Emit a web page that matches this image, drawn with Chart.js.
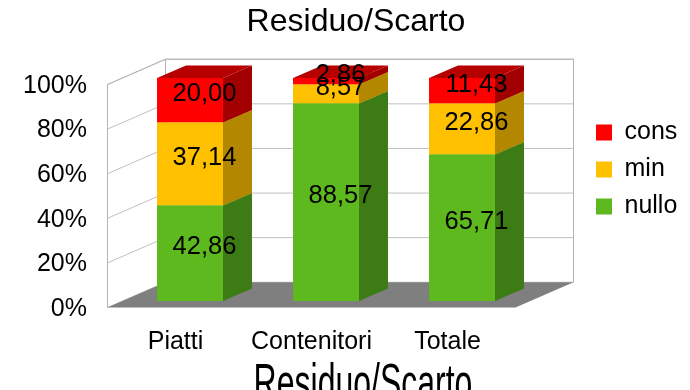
<!DOCTYPE html>
<html>
<head>
<meta charset="utf-8">
<style>
  html, body { margin: 0; padding: 0; background: #fff; overflow: hidden; }
  canvas { display: block; }
</style>
<script src="https://cdn.jsdelivr.net/npm/chart.js@4/dist/chart.umd.min.js"></script>
</head>
<body>
<canvas id="chart" width="690" height="390"></canvas>
<script>
// Share of waste per category (percent, stacked to 100)
const categories = ['Piatti', 'Contenitori', 'Totale'];
const nullo = [42.86, 88.57, 65.71];
const minimo = [37.14, 8.57, 22.86];
const cons = [20.00, 2.86, 11.43];
const yTicks = [0, 20, 40, 60, 80, 100];
const chartTitle = 'Residuo/Scarto';
const axisTitle = 'Residuo/Scarto';

const FONT = "'Liberation Sans', Arial, sans-serif";
Chart.defaults.font.family = FONT;

// Face colours for the 3D boxes: front, side, top
const shades = {
  nullo: { front: '#5eb91e', side: '#3d7b14', top: '#4b9a18' },
  min:   { front: '#ffc000', side: '#b38700', top: '#c99a00' },
  cons:  { front: '#ff0000', side: '#a20000', top: '#b60000' }
};

// Depth offsets, measured from the plane the bar fronts sit in
const FRONT = { x: -14.5, y: 6.5 };   // front edge of the floor / left wall
const BACK  = { x: 43.5, y: -18.75 }; // back wall
const BAR   = { x: 29, y: -12.5 };    // depth of each bar

const fmt = v => v.toFixed(2).replace('.', ',');

const box3d = {
  id: 'box3d',
  afterLayout(chart) {
    const a = chart.chartArea;
    const lg = chart.legend;
    if (lg) {
      const w = lg.width, h = lg.height;
      lg.left = a.right + 54; lg.right = lg.left + w;
      lg.top = a.top + 30; lg.bottom = lg.top + h;
    }
    const t = chart.titleBlock;
    if (t) {
      t.left = 22; t.right = chart.width; t.width = t.right - t.left;
    }
  },
  beforeDatasetsDraw(chart) {
    const { ctx, chartArea: a, scales: { y } } = chart;
    const L = a.left, R = a.right, T = a.top, B = a.bottom;
    ctx.save();
    ctx.lineWidth = 1;

    // back wall
    ctx.fillStyle = '#ffffff';
    ctx.fillRect(L + BACK.x, T + BACK.y, R - L, B - T);

    // grid lines across the left wall and the back wall
    ctx.strokeStyle = '#c0c0c0';
    yTicks.forEach(v => {
      const py = y.getPixelForValue(v);
      ctx.beginPath();
      ctx.moveTo(L + FRONT.x, py + FRONT.y);
      ctx.lineTo(L + BACK.x, py + BACK.y);
      ctx.lineTo(R + BACK.x, py + BACK.y);
      ctx.stroke();
    });

    // wall outlines
    ctx.strokeStyle = '#b3b3b3';
    ctx.beginPath();
    ctx.moveTo(L + FRONT.x, B + FRONT.y);
    ctx.lineTo(L + FRONT.x, T + FRONT.y);
    ctx.lineTo(L + BACK.x, T + BACK.y);
    ctx.lineTo(R + BACK.x, T + BACK.y);
    ctx.lineTo(R + BACK.x, B + BACK.y);
    ctx.moveTo(L + BACK.x, T + BACK.y);
    ctx.lineTo(L + BACK.x, B + BACK.y);
    ctx.stroke();

    // floor
    ctx.fillStyle = '#7f7f7f';
    ctx.beginPath();
    ctx.moveTo(L + FRONT.x, B + FRONT.y);
    ctx.lineTo(L + BACK.x, B + BACK.y);
    ctx.lineTo(R + BACK.x, B + BACK.y);
    ctx.lineTo(R + FRONT.x, B + FRONT.y);
    ctx.closePath();
    ctx.fill();

    // side and top faces of every stacked segment, bottom to top
    chart.data.datasets.forEach((ds, di) => {
      const meta = chart.getDatasetMeta(di);
      const sh = shades[ds.label];
      meta.data.forEach(bar => {
        const p = bar.getProps(['x', 'y', 'base', 'width'], true);
        const x0 = p.x - p.width / 2, x1 = p.x + p.width / 2;
        const yt = p.y, yb = p.base;
        ctx.fillStyle = sh.side;
        ctx.beginPath();
        ctx.moveTo(x1, yt);
        ctx.lineTo(x1, yb);
        ctx.lineTo(x1 + BAR.x, yb + BAR.y);
        ctx.lineTo(x1 + BAR.x, yt + BAR.y);
        ctx.closePath();
        ctx.fill();
        ctx.fillStyle = sh.top;
        ctx.beginPath();
        ctx.moveTo(x0, yt);
        ctx.lineTo(x1, yt);
        ctx.lineTo(x1 + BAR.x, yt + BAR.y);
        ctx.lineTo(x0 + BAR.x, yt + BAR.y);
        ctx.closePath();
        ctx.fill();
      });
    });
    ctx.restore();
  },
  afterDatasetsDraw(chart) {
    const { ctx } = chart;
    ctx.save();
    ctx.fillStyle = '#000';
    ctx.font = "25.5px " + FONT;
    ctx.textAlign = 'center';
    ctx.textBaseline = 'middle';
    chart.data.datasets.forEach((ds, di) => {
      chart.getDatasetMeta(di).data.forEach((bar, i) => {
        const p = bar.getProps(['x', 'y', 'base'], true);
        ctx.fillText(fmt(ds.data[i]), p.x + BAR.x / 2, (p.y + p.base) / 2 + BAR.y / 2);
      });
    });
    ctx.restore();
  },
  afterDraw(chart) {
    // category axis title, below the category labels
    const { ctx, chartArea: a } = chart;
    const t = chart.titleBlock;
    ctx.save();
    ctx.fillStyle = '#000';
    ctx.font = "32px " + FONT;
    ctx.textAlign = 'center';
    ctx.textBaseline = 'alphabetic';
    ctx.translate((t.left + t.right) / 2 + 7, a.bottom + 99);
    ctx.scale(1, 1.6);
    ctx.fillText(axisTitle, 0, 0);
    ctx.restore();
  }
};

const tickFont = { family: FONT, size: 25 };

new Chart(document.getElementById('chart'), {
  type: 'bar',
  data: {
    labels: categories,
    datasets: [
      { label: 'nullo', data: nullo, backgroundColor: shades.nullo.front },
      { label: 'min', data: minimo, backgroundColor: shades.min.front },
      { label: 'cons', data: cons, backgroundColor: shades.cons.front }
    ]
  },
  options: {
    responsive: false,
    animation: false,
    events: [],
    devicePixelRatio: 1,
    layout: { padding: { left: 22, right: 160, top: 0, bottom: 0 } },
    datasets: { bar: { categoryPercentage: 1, barPercentage: 0.485, borderWidth: 0 } },
    scales: {
      x: {
        stacked: true,
        grid: { display: false, drawTicks: false },
        border: { display: false },
        ticks: { font: tickFont, color: '#000', padding: 26, labelOffset: -14.5, maxRotation: 0, autoSkip: false },
        afterFit: s => { s.height = 89; }
      },
      y: {
        stacked: true,
        min: 0,
        max: 100,
        grid: { display: false, drawTicks: false },
        border: { display: false },
        afterBuildTicks: s => { s.ticks = yTicks.map(v => ({ value: v })); },
        ticks: { font: tickFont, color: '#000', padding: 35, labelOffset: 8, callback: v => v + '%' },
        afterFit: s => { s.width = 100; }
      }
    },
    plugins: {
      title: {
        display: true,
        text: chartTitle,
        color: '#000',
        font: { family: FONT, size: 32, weight: 'normal' },
        padding: { top: 2.8, bottom: 36.8 }
      },
      legend: {
        position: 'chartArea',
        align: 'start',
        reverse: true,
        labels: { font: tickFont, color: '#000', boxWidth: 16, boxHeight: 16, padding: 12 }
      },
      tooltip: { enabled: false }
    }
  },
  plugins: [box3d]
});
</script>
</body>
</html>
